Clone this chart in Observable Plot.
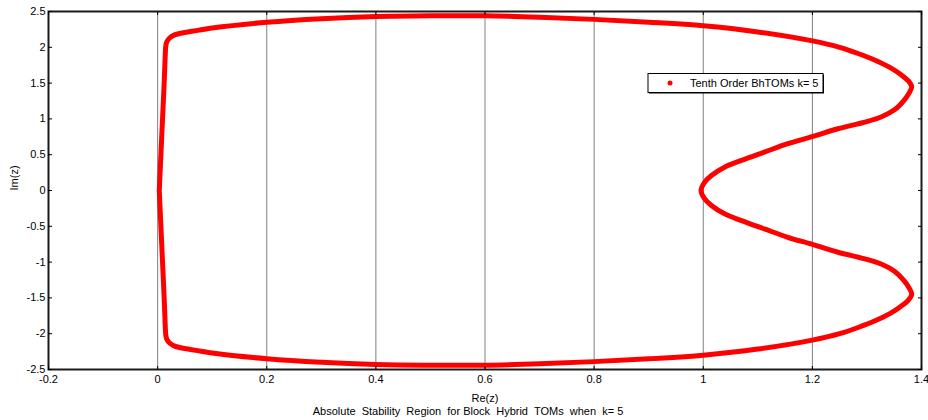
<!DOCTYPE html>
<html>
<head>
<meta charset="utf-8">
<script src="https://cdn.jsdelivr.net/npm/d3@7"></script>
<script src="https://cdn.jsdelivr.net/npm/@observablehq/plot@0.6"></script>
<style>
  html, body { margin: 0; padding: 0; background: #fff; }
  #chart { width: 928px; height: 420px; overflow: hidden; }
</style>
</head>
<body>
<div id="chart"></div>
<script>
// Boundary of the absolute stability region (closed loop)
const re = [
  0.003, 0.006, 0.009, 0.012, 0.014, 0.015, 0.017, 0.022, 0.03, 0.045, 0.06, 0.08, 0.1, 0.2, 0.3, 0.4, 0.5, 0.6, 0.7,
  0.8, 0.9, 1.0, 1.1, 1.2, 1.25, 1.285, 1.315, 1.342, 1.362, 1.376, 1.382, 1.378, 1.368, 1.351, 1.327, 1.296,
  1.247, 1.201, 1.155, 1.112, 1.07, 1.039, 1.015, 1.002, 0.996,
  1.002, 1.015, 1.039, 1.07, 1.112, 1.155, 1.201, 1.247, 1.296, 1.327, 1.351, 1.368, 1.378, 1.382, 1.376, 1.362,
  1.342, 1.315, 1.285, 1.25, 1.2, 1.1, 1.0, 0.9, 0.8, 0.7, 0.6, 0.5, 0.4, 0.3, 0.2, 0.1, 0.08, 0.06, 0.045,
  0.03, 0.022, 0.017, 0.015, 0.014, 0.012, 0.009, 0.006, 0.003
];
const im = [
  0, 0.5, 1.0, 1.5, 1.9, 2.02, 2.08, 2.13, 2.17, 2.20, 2.22, 2.245, 2.27, 2.35, 2.40, 2.43, 2.44, 2.44, 2.42,
  2.39, 2.35, 2.30, 2.215, 2.09, 2.0, 1.91, 1.82, 1.72, 1.62, 1.53, 1.45, 1.37, 1.26, 1.13, 1.03, 0.955,
  0.862, 0.755, 0.653, 0.536, 0.42, 0.326, 0.21, 0.11, 0,
  -0.11, -0.21, -0.326, -0.42, -0.536, -0.653, -0.755, -0.862, -0.955, -1.03, -1.13, -1.26, -1.37, -1.45, -1.53, -1.62,
  -1.72, -1.82, -1.91, -2.0, -2.09, -2.215, -2.30, -2.35, -2.39, -2.42, -2.44, -2.44, -2.43, -2.40, -2.35, -2.27, -2.245, -2.22, -2.20,
  -2.17, -2.13, -2.08, -2.02, -1.9, -1.5, -1.0, -0.5, 0
];
const xTicks = [-0.2, 0, 0.2, 0.4, 0.6, 0.8, 1, 1.2, 1.4];
const yTicks = [-2.5, -2, -1.5, -1, -0.5, 0, 0.5, 1, 1.5, 2, 2.5];
const seriesName = "Tenth Order BhTOMs k= 5";
const xLabel = "Re(z)";
const yLabel = "Im(z)";
const title = "Absolute  Stability  Region  for Block  Hybrid  TOMs  when  k= 5";

const pts = re.map((r, i) => ({re: r, im: im[i]}));
const fmt = d => String(d);
const blank = () => "";

const plot = Plot.plot({
  width: 928,
  height: 420,
  marginLeft: 48,
  marginRight: 7,
  marginTop: 11,
  marginBottom: 51,
  x: {domain: [-0.2, 1.4]},
  y: {domain: [-2.5, 2.5]},
  style: {fontFamily: "'Liberation Sans', Arial, sans-serif", fontSize: "11px", color: "#000", background: "#fff"},
  marks: [
    Plot.gridX(xTicks, {stroke: "#808080", strokeOpacity: 1, strokeWidth: 1}),
    Plot.line(pts, {x: "re", y: "im", stroke: "#ff0000", strokeWidth: 5, curve: "catmull-rom", strokeLinejoin: "round"}),
    Plot.frame({stroke: "#1a1a1a", strokeWidth: 2}),
    Plot.axisX(xTicks, {anchor: "bottom", tickSize: -3, tickPadding: 9, tickFormat: fmt, label: null, stroke: "#000"}),
    Plot.axisX(xTicks, {anchor: "top", tickSize: -3, tickFormat: blank, label: null, stroke: "#000"}),
    Plot.axisY(yTicks, {anchor: "left", tickSize: -4, tickPadding: 7, tickFormat: fmt, label: null, stroke: "#000"}),
    Plot.axisY(yTicks, {anchor: "right", tickSize: -4, tickFormat: blank, label: null, stroke: "#000"}),
    Plot.text([xLabel], {text: d => d, frameAnchor: "bottom", dy: 29, lineAnchor: "middle", fill: "#000"}),
    Plot.text([title], {text: d => d, frameAnchor: "bottom", dy: 42, dx: -17, lineAnchor: "middle", fill: "#000",
      fontFamily: "'Liberation Sans Narrow', 'Arial Narrow', 'Liberation Sans', sans-serif"}),
    Plot.text([yLabel], {text: d => d, frameAnchor: "left", dx: -34, rotate: -90, fill: "#000"})
  ]
});

document.getElementById("chart").appendChild(plot);

// Legend box (MATLAB style)
const svg = d3.select(plot);
const lg = svg.append("g").attr("font-family", "'Liberation Sans', Arial, sans-serif").attr("font-size", 11).attr("text-anchor", "start");
lg.append("rect").attr("x", 649).attr("y", 74.5).attr("width", 175).attr("height", 19).attr("fill", "#000");
lg.append("rect").attr("x", 648).attr("y", 73.5).attr("width", 175).attr("height", 19).attr("fill", "#fff").attr("stroke", "#000").attr("stroke-width", 1);
lg.append("circle").attr("cx", 670).attr("cy", 83).attr("r", 2.5).attr("fill", "#ff0000");
lg.append("text").attr("x", 690).attr("y", 83).attr("dy", "0.35em").attr("fill", "#000").attr("text-anchor", "start").text(seriesName);
</script>
</body>
</html>
